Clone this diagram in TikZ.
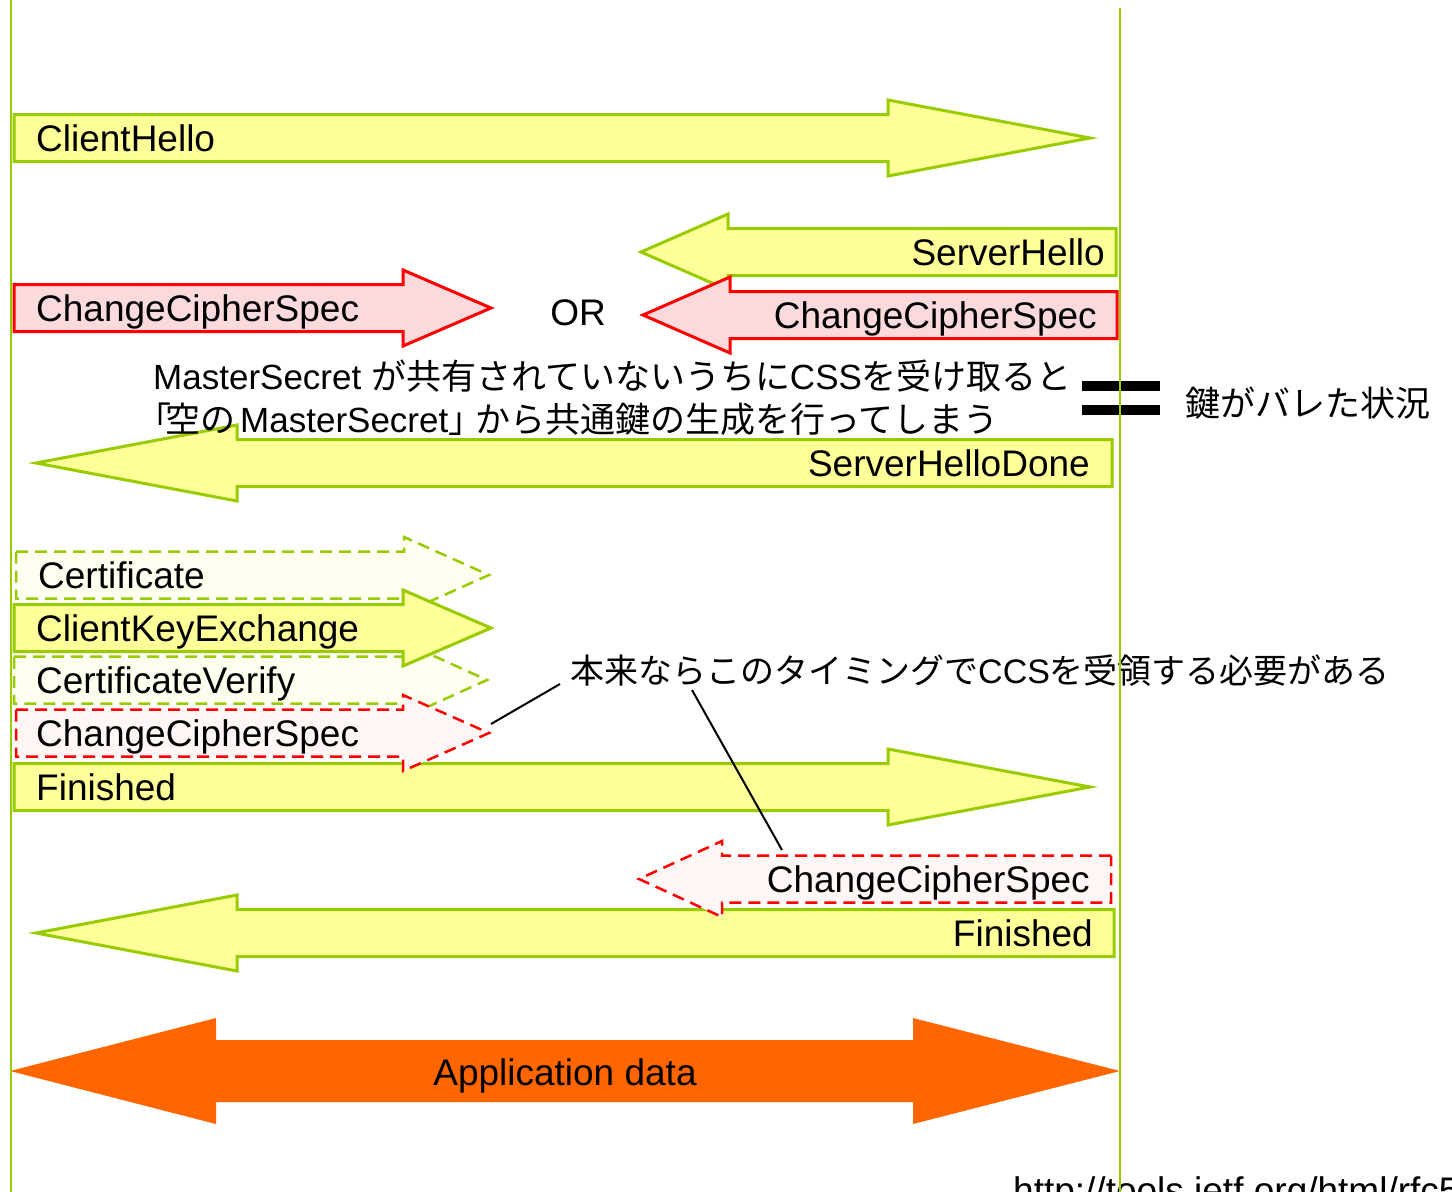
\documentclass[tikz,border=0pt]{standalone}
\usepackage{fontspec}
\setmainfont{Liberation Sans}
\newfontfamily\jp{Noto Sans CJK JP}

\definecolor{lifegreen}{HTML}{99CC00}
\definecolor{msgfill}{HTML}{FFFF99}
\definecolor{ccsfill}{HTML}{FADADD}
\definecolor{optfill}{HTML}{FFFFF0}
\definecolor{optccsfill}{HTML}{FFF6F6}
\definecolor{appdata}{HTML}{FF6600}

% block arrow: style, tail x, head base x, tip x, centre y
\newcommand\blockmsg[5]{%
  \path[#1] (#2,#5-23.5) -- (#3,#5-23.5) -- (#3,#5-38) -- (#4,#5)
    -- (#3,#5+38) -- (#3,#5+23.5) -- (#2,#5+23.5) -- cycle;}

\tikzset{
  msgplain/.style={draw=lifegreen, fill=msgfill, line width=3pt},
  msgccs/.style={draw=red, fill=ccsfill, line width=3pt},
  msgopt/.style={draw=lifegreen, fill=optfill, line width=2.5pt, dash pattern=on 12pt off 7pt},
  msgoptccs/.style={draw=red, fill=optccsfill, line width=2.5pt, dash pattern=on 12pt off 7pt},
  lbl/.style={inner sep=0pt, font=\fontsize{37}{44}\selectfont},
  note/.style={inner sep=0pt, font=\fontsize{35}{42}\selectfont},
  notesmall/.style={inner sep=0pt, font=\fontsize{34}{41}\selectfont},
  lifeline/.style={draw=lifegreen, line width=2.8pt},
  callout/.style={draw=black, line width=2pt}
}

\begin{document}
\begin{tikzpicture}[x=1pt, y=-1pt]
\useasboundingbox (0,0) rectangle (1452,1192);
\clip (0,0) rectangle (1452,1192);

% handshake messages
\blockmsg{msgplain}{14}{888}{1090}{138}
\node[lbl, anchor=base west] (clienthello) at (36,151.5) {ClientHello};

\blockmsg{msgplain}{1116}{728}{641}{252}
\node[lbl, anchor=base east] (serverhello) at (1105,265.5) {ServerHello};

\blockmsg{msgccs}{14}{403}{491}{308}
\node[lbl, anchor=base west] (ccsclient) at (36,321.5) {ChangeCipherSpec};

\node[lbl, anchor=base] (or) at (578,325.5) {OR};

\blockmsg{msgccs}{1117}{730}{643}{315}
\node[lbl, anchor=base east] (ccsserver) at (1097,328.5) {ChangeCipherSpec};

\blockmsg{msgplain}{1112}{237}{36}{463}
\node[lbl, anchor=base east] (shdone) at (1090,476.5) {ServerHelloDone};

% explanation of the early CCS problem
\node[note, anchor=base west] (noteA) at (153,389)
  {MasterSecret {\jp が共有されていないうちに}CSS{\jp を受け取ると}};
\node[note, anchor=base west] (noteB) at (136,432)
  {{\jp 「\kern-6pt 空の}\kern5pt MasterSecret{\jp 」\kern-8pt から共通鍵の生成を行ってしまう}};
\fill (1082,381) rectangle (1160,391);
\fill (1082,405) rectangle (1160,415);
\node[note, anchor=base west] (leak) at (1185,416) {\jp 鍵がバレた状況};

% client second flight
\blockmsg{msgopt}{16}{404}{489}{575}
\node[lbl, anchor=base west] (cert) at (38,588.5) {Certificate};

\blockmsg{msgopt}{14}{403}{487}{680}
\node[lbl, anchor=base west] (certverify) at (36,693.5) {CertificateVerify};

\blockmsg{msgplain}{14}{403}{491}{628}
\node[lbl, anchor=base west] (cke) at (36,641.5) {ClientKeyExchange};

\blockmsg{msgplain}{14}{888}{1090}{787}
\node[lbl, anchor=base west] (finclient) at (36,800.5) {Finished};

\blockmsg{msgoptccs}{16}{403}{489}{733}
\node[lbl, anchor=base west] (ccsopt) at (36,746.5) {ChangeCipherSpec};
\coordinate (ccsopttip) at (491,724);

% server second flight
\blockmsg{msgplain}{1114}{237}{36}{933}
\node[lbl, anchor=base east] (finserver) at (1093,946.5) {Finished};

\blockmsg{msgoptccs}{1111}{722}{639}{879}
\node[lbl, anchor=base east] (ccsserveropt) at (1090,892.5) {ChangeCipherSpec};
\coordinate (ccsservertop) at (782,850);

% note on where CCS should arrive
\node[notesmall, anchor=base west] (noteC) at (570,683)
  {{\jp 本来ならこのタイミングで}CCS{\jp を受領する必要がある}};
\coordinate (noteCleft) at (560,684);
\coordinate (noteCunder) at (692,690);
\draw[callout] (ccsopttip) -- (noteCleft);
\draw[callout] (noteCunder) -- (ccsservertop);

% application data
\fill[appdata] (10,1071) -- (216,1018) -- (216,1040) -- (913,1040) -- (913,1018)
  -- (1120,1071) -- (913,1124) -- (913,1102) -- (216,1102) -- (216,1124) -- cycle;
\node[lbl, anchor=base] (appdata) at (565,1085) {Application data};

% reference
\node[lbl, anchor=base west] (ref) at (1013,1203) {http://tools.ietf.org/html/rfc5246};

% lifelines
\coordinate (clienttop) at (11,0);
\coordinate (clientbottom) at (11,1192);
\coordinate (servertop) at (1120,8);
\coordinate (serverbottom) at (1120,1192);
\draw[lifeline] (clienttop) -- (clientbottom);
\draw[lifeline] (servertop) -- (serverbottom);
\end{tikzpicture}
\end{document}
